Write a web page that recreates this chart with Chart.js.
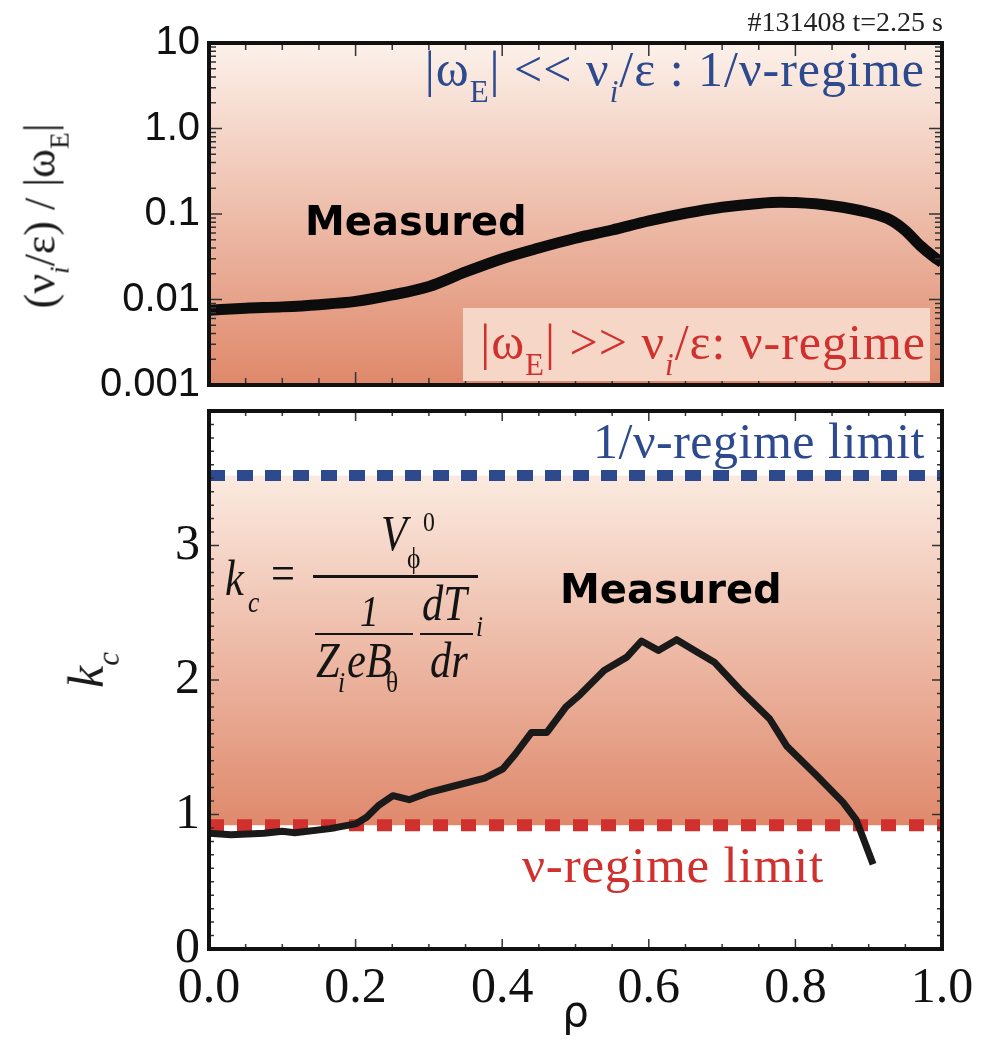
<!DOCTYPE html>
<html lang="en">
<head>
    <meta charset="UTF-8">
    <title>kc profile</title>
    <script src="https://cdn.jsdelivr.net/npm/chart.js"></script>
    <style>
        body { margin: 0; background: #fff; }
        #stage { position: relative; width: 986px; height: 1040px; overflow: hidden; background: #fff; }
        canvas { position: absolute; left: 0; }
        #topChart { top: 0; }
        #kcChart { top: 400px; }
        .note { position: absolute; white-space: nowrap; }
        .sb { font-size: 0.62em; vertical-align: -0.5em; }
        .rot { position: absolute; white-space: nowrap; transform: translate(-50%, -50%) rotate(-90deg); line-height: 1; }
        .bar { position: absolute; background: #151515; }
    </style>
</head>
<body>
    <div id="stage">
        <canvas id="topChart" width="986" height="410"></canvas>
        <canvas id="kcChart" width="986" height="640"></canvas>
    </div>

    <script>
    // upper panel: (nu_i/eps)/|omega_E| vs rho
    const rhoTop = [0, 0.05, 0.1, 0.15, 0.2, 0.25, 0.3, 0.35, 0.4, 0.45, 0.5, 0.55, 0.6, 0.65, 0.7, 0.75, 0.78, 0.8, 0.85, 0.9, 0.93, 0.95, 0.97, 0.988, 1.0];
    const ratioTop = [0.0075, 0.0079, 0.0082, 0.0087, 0.0095, 0.0113, 0.0142, 0.021, 0.030, 0.040, 0.052, 0.065, 0.083, 0.102, 0.12, 0.133, 0.137, 0.136, 0.125, 0.104, 0.085, 0.064, 0.043, 0.032, 0.027];
    const yTopTicks = [0.001, 0.01, 0.1, 1, 10];
    const yTopLabels = ['0.001', '0.01', '0.1', '1.0', '10'];

    // lower panel: k_c vs rho
    const rhoKc = [0, 0.03, 0.075, 0.1, 0.117, 0.165, 0.2, 0.215, 0.232, 0.251, 0.273, 0.298, 0.333, 0.376, 0.401, 0.418, 0.44, 0.461, 0.487, 0.506, 0.539, 0.57, 0.59, 0.613, 0.638, 0.659, 0.69, 0.724, 0.765, 0.788, 0.829, 0.865, 0.883, 0.906];
    const kcValues = [0.86, 0.85, 0.86, 0.875, 0.865, 0.895, 0.93, 0.98, 1.07, 1.14, 1.11, 1.16, 1.21, 1.27, 1.34, 1.45, 1.61, 1.61, 1.80, 1.89, 2.07, 2.17, 2.29, 2.22, 2.30, 2.23, 2.13, 1.93, 1.71, 1.51, 1.29, 1.09, 0.96, 0.63];
    const kcUpperLimit = 3.52;   // 1/nu-regime limit
    const kcLowerLimit = 0.92;   // nu-regime limit
    const xTicks = [0, 0.2, 0.4, 0.6, 0.8, 1.0];
    const xLabels = ['0.0', '0.2', '0.4', '0.6', '0.8', '1.0'];
    const yKcTicks = [0, 1, 2, 3];
    const yKcLabels = ['0', '1', '2', '3'];

    const SERIF = '"Liberation Serif", "Times New Roman", serif';
    const BLUE = '#2d4a8e';
    const RED = '#d0302e';

    // gradient background + inward ticks + frame
    const panelFrame = {
        id: 'panelFrame',
        beforeDatasetsDraw(chart, args, o) {
            const { ctx, chartArea: a, scales } = chart;
            const y0 = o.bandFrom != null ? scales.y.getPixelForValue(o.bandFrom) : a.top;
            const y1 = o.bandTo != null ? scales.y.getPixelForValue(o.bandTo) : a.bottom;
            const g = ctx.createLinearGradient(0, y0, 0, y1);
            g.addColorStop(0, o.colorTop);
            g.addColorStop(1, o.colorBottom);
            ctx.save();
            ctx.fillStyle = g;
            ctx.fillRect(a.left, y0, a.right - a.left, y1 - y0);
            ctx.restore();
        },
        afterDatasetsDraw(chart, args, o) {
            const { ctx, chartArea: a, scales } = chart;
            ctx.save();
            ctx.strokeStyle = '#333';
            ctx.lineWidth = 1.5;
            ctx.beginPath();
            o.xTickVals.forEach(v => {
                const px = scales.x.getPixelForValue(v);
                const len = o.isMajorX(v) ? o.majorLen : o.minorLen;
                ctx.moveTo(px, a.bottom); ctx.lineTo(px, a.bottom - len);
                ctx.moveTo(px, a.top); ctx.lineTo(px, a.top + len);
            });
            o.yTickVals.forEach(v => {
                const py = scales.y.getPixelForValue(v);
                const len = o.isMajorY(v) ? o.majorLen : o.minorLen;
                ctx.moveTo(a.left, py); ctx.lineTo(a.left + len, py);
                ctx.moveTo(a.right, py); ctx.lineTo(a.right - len, py);
            });
            ctx.stroke();
            ctx.lineWidth = 4;
            ctx.strokeStyle = '#111';
            ctx.strokeRect(a.left, a.top, a.right - a.left, a.bottom - a.top);
            ctx.restore();
        }
    };
    Chart.register(panelFrame);

    const xTickVals = [];
    for (let i = 0; i <= 20; i++) xTickVals.push(i * 0.05);
    const logTickVals = [];
    [0.001, 0.01, 0.1, 1].forEach(d => { for (let m = 1; m <= 9; m++) logTickVals.push(d * m); });
    logTickVals.push(10);
    const kcTickVals = [];
    for (let i = 0; i <= 40; i++) kcTickVals.push(i * 0.1);

    const near = (v, step) => Math.abs(v / step - Math.round(v / step)) < 1e-6;

    // keep the plot area exactly where the layout padding puts it
    const noLabelPad = s => { s.paddingTop = 0; s.paddingBottom = 0; s.paddingLeft = 0; s.paddingRight = 0; };

    new Chart(document.getElementById('topChart'), {
        type: 'line',
        data: {
            datasets: [{
                label: 'Measured',
                data: rhoTop.map((r, i) => ({ x: r, y: ratioTop[i] })),
                borderColor: '#0c0c0c',
                borderWidth: 11,
                pointRadius: 0,
                cubicInterpolationMode: 'monotone',
                fill: false
            }]
        },
        options: {
            responsive: false,
            animation: false,
            devicePixelRatio: 1,
            layout: { padding: { top: 43, right: 44, bottom: 25, left: 0 } },
            plugins: {
                legend: { display: false },
                tooltip: { enabled: false },
                panelFrame: {
                    colorTop: '#fcf1ea', colorBottom: '#df886a',
                    xTickVals: xTickVals, isMajorX: v => near(v, 0.2),
                    yTickVals: logTickVals, isMajorY: v => yTopTicks.some(t => Math.abs(t - v) < 1e-9),
                    majorLen: 13, minorLen: 7
                }
            },
            scales: {
                x: { type: 'linear', min: 0, max: 1, display: false },
                y: {
                    type: 'logarithmic', min: 0.001, max: 10,
                    grid: { display: false, drawTicks: false },
                    border: { display: false },
                    ticks: {
                        font: { family: '"Liberation Sans", Arial, sans-serif', size: 40 },
                        color: '#111', padding: 9, autoSkip: false,
                        callback: (v, i) => yTopLabels[i]
                    },
                    afterBuildTicks: s => { s.ticks = yTopTicks.map(v => ({ value: v })); },
                    afterFit: s => { s.width = 209; noLabelPad(s); }
                }
            }
        }
    });

    new Chart(document.getElementById('kcChart'), {
        type: 'line',
        data: {
            datasets: [
                {
                    label: 'Measured',
                    data: rhoKc.map((r, i) => ({ x: r, y: kcValues[i] })),
                    borderColor: '#1a1a1a',
                    borderWidth: 7,
                    borderJoinStyle: 'round',
                    pointRadius: 0,
                    tension: 0,
                    fill: false
                },
                {
                    label: '1/nu-regime limit',
                    data: [{ x: 0, y: kcUpperLimit }, { x: 1, y: kcUpperLimit }],
                    borderColor: BLUE,
                    borderWidth: 11,
                    borderDash: [16, 12],
                    pointRadius: 0,
                    fill: false
                },
                {
                    label: 'nu-regime limit',
                    data: [{ x: 0, y: kcLowerLimit }, { x: 1, y: kcLowerLimit }],
                    borderColor: RED,
                    borderWidth: 12,
                    borderDash: [15, 13],
                    pointRadius: 0,
                    fill: false
                }
            ]
        },
        options: {
            responsive: false,
            animation: false,
            devicePixelRatio: 1,
            layout: { padding: { top: 11, right: 44, bottom: 0, left: 0 } },
            plugins: {
                legend: { display: false },
                tooltip: { enabled: false },
                panelFrame: {
                    bandFrom: kcUpperLimit, bandTo: kcLowerLimit,
                    colorTop: '#fbeae0', colorBottom: '#df896c',
                    xTickVals: xTickVals, isMajorX: v => near(v, 0.2),
                    yTickVals: kcTickVals, isMajorY: v => near(v, 1),
                    majorLen: 10, minorLen: 5
                }
            },
            scales: {
                x: {
                    type: 'linear', min: 0, max: 1,
                    grid: { display: false, drawTicks: false },
                    border: { display: false },
                    ticks: {
                        font: { family: SERIF, size: 50 },
                        color: '#111', padding: 10, autoSkip: false, maxRotation: 0,
                        callback: (v, i) => xLabels[i]
                    },
                    afterBuildTicks: s => { s.ticks = xTicks.map(v => ({ value: v })); },
                    title: {
                        display: true, text: 'ρ', color: '#111',
                        font: { family: '"DejaVu Sans", sans-serif', size: 42 },
                        padding: { top: 0, bottom: 0 }
                    },
                    afterFit: s => { s.height = 91; noLabelPad(s); }
                },
                y: {
                    type: 'linear', min: 0, max: 4,
                    grid: { display: false, drawTicks: false },
                    border: { display: false },
                    ticks: {
                        font: { family: SERIF, size: 50 },
                        color: '#111', padding: 9, autoSkip: false,
                        callback: (v, i) => yKcLabels[i]
                    },
                    afterBuildTicks: s => { s.ticks = yKcTicks.map(v => ({ value: v })); },
                    afterFit: s => { s.width = 209; noLabelPad(s); }
                }
            }
        }
    });

    // text annotations
    const stage = document.getElementById('stage');

    function addText(html, o) {
        const d = document.createElement('div');
        d.className = 'note';
        d.innerHTML = html;
        d.style.font = (o.italic ? 'italic ' : '') + (o.bold ? 'bold ' : '') + o.size + 'px ' + (o.family || SERIF);
        d.style.lineHeight = '1';
        d.style.color = o.color || '#141414';
        d.style.top = (o.base - 0.84 * o.size) + 'px';
        if (o.ls) d.style.letterSpacing = o.ls + 'px';
        if (o.sx) { d.style.transform = 'scaleX(' + o.sx + ')'; d.style.transformOrigin = 'left center'; }
        if (o.align === 'right') { d.style.right = (986 - o.x) + 'px'; d.style.transformOrigin = 'right center'; }
        else d.style.left = o.x + 'px';
        stage.appendChild(d);
        return d;
    }

    function addBar(x, y, w, h) {
        const b = document.createElement('div');
        b.className = 'bar';
        Object.assign(b.style, { left: x + 'px', top: y + 'px', width: w + 'px', height: h + 'px' });
        stage.appendChild(b);
    }

    function addRotated(html, cx, cy, font) {
        const d = document.createElement('div');
        d.className = 'rot';
        d.innerHTML = html;
        d.style.font = font;
        d.style.lineHeight = '1';
        d.style.color = '#1a1a1a';
        d.style.left = cx + 'px';
        d.style.top = cy + 'px';
        stage.appendChild(d);
    }

    // light box behind the lower label of the top panel
    const box = document.createElement('div');
    Object.assign(box.style, { position: 'absolute', left: '463px', top: '308px', width: '467px', height: '73px', background: '#f6d7c7' });
    stage.appendChild(box);

    addText('#131408 t=2.25 s', { x: 943, base: 32, size: 28, align: 'right', color: '#222' });
    addText('|ω<span class="sb">E</span>| &lt;&lt; ν<span class="sb"><i>i</i></span>/ε : 1/ν-regime', { x: 925, base: 86, size: 50, ls: 1, align: 'right', color: BLUE });
    addText('|ω<span class="sb">E</span>| &gt;&gt; ν<span class="sb"><i>i</i></span>/ε: ν-regime', { x: 926, base: 359, size: 50, ls: 1, align: 'right', color: RED });
    addText('Measured', { x: 305, base: 235, size: 40, bold: true, family: '"DejaVu Sans", sans-serif', color: '#000' });

    addText('1/ν-regime limit', { x: 925, base: 458, size: 50, ls: 0.5, align: 'right', color: BLUE });
    addText('ν-regime limit', { x: 522, base: 883, size: 51, ls: 0.8, color: RED });
    addText('Measured', { x: 560, base: 603, size: 40, bold: true, family: '"DejaVu Sans", sans-serif', color: '#000' });

    // formula k_c = V_phi^0 / ( 1/(Z_i e B_theta) dT_i/dr )
    const F = 0.85;
    addText('k', { x: 225, base: 595, size: 50, italic: true, sx: F });
    addText('c', { x: 248, base: 612, size: 30, italic: true, sx: F });
    addText('=', { x: 271, base: 590, size: 50, sx: F });
    addBar(313, 575, 165, 3);
    addText('V', { x: 381, base: 550, size: 50, italic: true, sx: F });
    addText('0', { x: 423, base: 532, size: 28, sx: F });
    addText('ϕ', { x: 407, base: 568, size: 30, sx: F });
    addText('1', { x: 360, base: 627, size: 44, italic: true, sx: F });
    addBar(315, 633, 98, 2);
    addText('Z', { x: 316, base: 677, size: 50, italic: true, sx: F });
    addText('i', { x: 338, base: 692, size: 30, italic: true, sx: F });
    addText('eB', { x: 347, base: 677, size: 50, italic: true, sx: F });
    addText('θ', { x: 386, base: 692, size: 30, sx: F });
    addText('dT', { x: 422, base: 620, size: 50, italic: true, sx: F });
    addText('i', { x: 476, base: 636, size: 30, italic: true, sx: F });
    addBar(420, 633, 53, 2);
    addText('dr', { x: 430, base: 677, size: 50, italic: true, sx: F });

    // axis titles with sub/superscripts
    addRotated('(ν<span class="sb"><i>i</i></span>/ε) / |ω<span class="sb">E</span>|', 46, 216, '44px ' + SERIF);
    addRotated('<i>k<span class="sb">c</span></i>', 92, 670, '50px ' + SERIF);
    </script>
</body>
</html>
